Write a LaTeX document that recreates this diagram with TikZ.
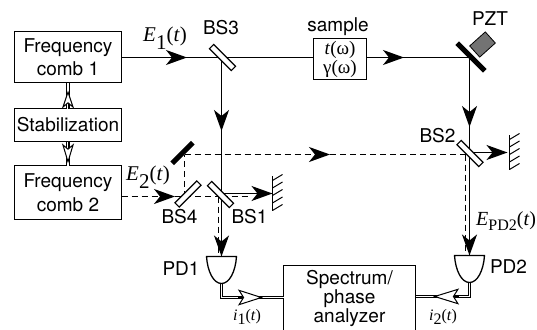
\documentclass[tikz,border=0pt]{standalone}
\usepackage{fontspec}
\setmainfont{TeX Gyre Heros}
\newfontfamily\timesfont{Liberation Serif}
\usetikzlibrary{arrows.meta, positioning, backgrounds}
\newcommand{\sig}[3]{{\timesfont\textit{#1}\raisebox{#3}{#2}(\textit{t})}}
\newcommand{\hatchmirror}[1]{%
  \draw[hatchline] (#1) ++(0,-17.5) -- ++(0,35);
  \foreach \dy in {-13,-5.5,2,9.5,17} \draw[hatchtick] (#1) ++(0,\dy) -- ++(10,-6);
}
\newcommand{\pdhead}[1]{%
  \draw[pdshape] (#1) ++(-15,0) -- ++(30,0) .. controls +(-1,15) and +(8,0) .. ++(-15,27)
    .. controls +(-8,0) and +(1,15) .. ++(-15,-27) -- cycle;
}
\tikzset{
  basefont/.style = {font=\fontsize{19}{19}\selectfont},
  devbox/.style = {
    rectangle, draw=black, line width=1.3pt, fill=white, inner sep=0pt, outer sep=0pt,
    align=center, basefont
  },
  combbox/.style = {devbox, font=\fontsize{19}{23.5}\selectfont, minimum width=107pt},
  plate/.style = {
    rectangle, draw=black, line width=1.1pt, fill=white, inner sep=0pt,
    minimum width=31pt, minimum height=6pt
  },
  mirror/.style = {rectangle, fill=black, inner sep=0pt, minimum height=5pt},
  tag/.style = {inner sep=0pt, basefont},
  sigtag/.style = {inner sep=0pt, anchor=base west},
  beam/.style = {line width=1.3pt},
  beamhead/.style = {beam, -{Stealth[length=21pt, width=15pt, inset=6pt]}},
  dashbeam/.style = {line width=1.6pt, dash pattern=on 6pt off 4pt},
  dashhead/.style = {dashbeam, -{Stealth[length=21pt, width=15pt, inset=6pt]}},
  wire/.style = {double, line width=1.1pt, double distance=1.7pt},
  wirehead/.style 2 args = {line width=1pt, -{Stealth[length=#1, width=#2, inset=5pt, fill=white]}},
  hatchline/.style = {line width=1.3pt},
  hatchtick/.style = {line width=1pt},
  pdshape/.style = {line width=1.3pt, fill=white}
}
\begin{document}
\begin{tikzpicture}[x=1pt, y=-1pt]
  \path[use as bounding box, clip] (0,0) rectangle (537,329);

  % Nodes
  \node[combbox, minimum height=51pt] (comb1) at (68,57) {Frequency\\comb 1};
  \node[devbox, below=26pt of comb1, minimum width=107pt, minimum height=33pt] (stab) {Stabilization};
  \node[combbox, below=24pt of stab, minimum height=54pt] (comb2) {Frequency\\comb 2};
  \node[devbox, minimum width=53pt, minimum height=41pt] (sample) at (340,59)
    {\timesfont\textit{t}(ω)\\\timesfont γ(ω)};
  \node[devbox, anchor=north, minimum width=132pt, minimum height=66pt] (analyzer) at (349.5,265.5)
    {Spectrum/\\phase\\analyzer};

  \node[plate, rotate=-45] (bs3) at (222.5,57.5) {};
  \node[plate, rotate=-45] (bs1) at (220.5,194.5) {};
  \node[plate, rotate=45] (bs4) at (188,194) {};
  \node[plate, rotate=-45] (bs2) at (470,153.5) {};
  \node[mirror, rotate=45, minimum width=29pt] (fold) at (182.5,153) {};
  \node[mirror, rotate=-45, minimum width=39pt] (pztm) at (471,57) {};
  \node[rectangle, draw=black, line width=0.8pt, fill=black!55, rotate=42, inner sep=0pt,
    minimum width=21pt, minimum height=15pt] (pzt) at (482.5,44.5) {};

  \coordinate (pd1) at (221.5,256.5);
  \coordinate (pd2) at (469.5,255.5);
  \coordinate (mirror1) at (272.5,193.5);
  \coordinate (mirror2) at (509.5,152.5);
  \coordinate (corner) at (184.5,154.5);
  \coordinate (turn) at (184.5,196.5);
  \coordinate (in1) at (283.5,297.5);
  \coordinate (in2) at (415.5,296.5);
  \coordinate (out1) at (221.5,283);
  \coordinate (out2) at (469.5,283);

  % Labels
  \node[tag] (bs3label) at (221,28) {BS3};
  \node[tag] (samplelabel) at (338,27) {sample};
  \node[tag] (pztlabel) at (490,19) {PZT};
  \node[tag] (bs2label) at (437.5,136) {BS2};
  \node[tag] (bs4label) at (179.5,216.5) {BS4};
  \node[tag] (bs1label) at (249.5,216.5) {BS1};
  \node[tag] (pd1label) at (181,269) {PD1};
  \node[tag] (pd2label) at (508.5,266.5) {PD2};
  \node[sigtag, font=\fontsize{21}{21}\selectfont] (e1label) at (143,41.6) {\sig{E}{1}{-8pt}};
  \node[sigtag, font=\fontsize{21}{21}\selectfont] (e2label) at (126,180) {\sig{E}{2}{-8pt}};
  \node[sigtag, font=\fontsize{20}{20}\selectfont] (epdlabel) at (476,225.5)
    {\sig{E}{\fontsize{16}{16}\selectfont PD2}{-5pt}};
  \node[sigtag, font=\fontsize{16}{16}\selectfont] (i1label) at (233,320.5) {\sig{i}{1}{-4pt}};
  \node[sigtag, font=\fontsize{16}{16}\selectfont] (i2label) at (429,320.5) {\sig{i}{2}{-4pt}};

  % Connections
  \begin{scope}[on background layer]
    \draw[beamhead] (comb1.east |- bs3) -- (187,57.5);
    \draw[beam] (comb1.east |- bs3) -- (sample.west |- bs3);
    \draw[beamhead] (sample.east |- bs3) -- (404,57.5);
    \draw[beam] (sample.east |- bs3) -- (pztm.center |- bs3);
    \draw[beamhead] (pd2 |- pztm) -- (469.5,127);
    \draw[beamhead] (pd2 |- pztm) -- (pd2);
    \draw[beamhead] (pd1 |- bs3) -- (221.5,131);
    \draw[beamhead] (pd1 |- bs3) -- (pd1);
    \draw[beamhead] (pd1 |- mirror1) -- (mirror1);
    \draw[beamhead] (pd2 |- mirror2) -- ++(38,0);
    \draw[dashhead] (comb2.east |- turn) -- (175,196.5);
    \draw[dashbeam] (175,196.5) -- (turn -| bs1);
    \draw[dashbeam] (turn) -- (corner);
    \draw[dashhead] (corner) -- (330,154.5);
    \draw[dashbeam] (330,154.5) -- (corner -| pd2);
    \draw[dashbeam] ([xshift=-4pt]corner -| pd2) -- ([xshift=-4pt,yshift=-5pt]pd2);
    \draw[dashbeam] ([xshift=-3pt]turn -| pd1) -- ([xshift=-3pt,yshift=-6pt]pd1);
    \draw[dashbeam] (turn -| pd1) -- ++(28,0);
  \end{scope}
  \draw[wire] (stab.north) -- (comb1.south);
  \draw[wire] (stab.south) -- (comb2.north);
  \draw[wire] (out1) |- (in1);
  \draw[wire] (out2) |- (in2);
  \draw[wirehead={18pt}{12pt}] (stab.north) -- ++(0,-18);
  \draw[wirehead={20pt}{12pt}] (stab.south) -- ++(0,22);
  \draw[wirehead={25pt}{16pt}] (238,297.5) -- (263,297.5);
  \draw[wirehead={26pt}{16pt}] (459,296.5) -- (433,296.5);

  \pdhead{pd1}
  \pdhead{pd2}
  \hatchmirror{mirror1}
  \hatchmirror{mirror2}
\end{tikzpicture}
\end{document}
